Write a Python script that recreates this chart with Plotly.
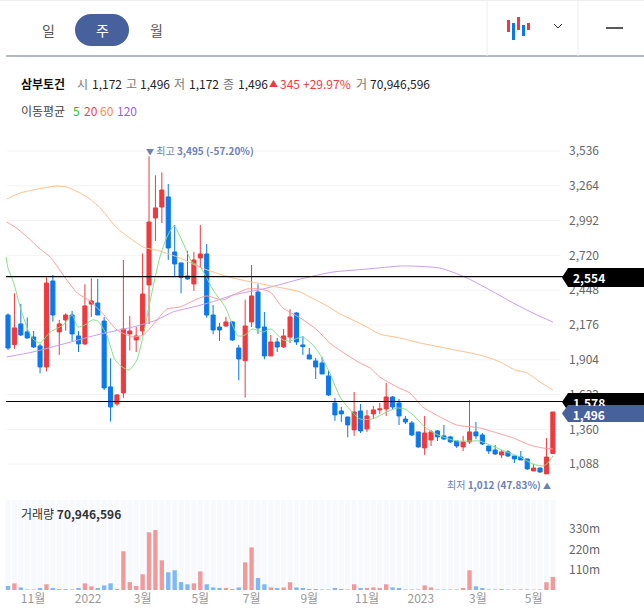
import plotly.graph_objects as go

W, H = 644, 611

# weekly candles
opens = [2254,2023,2184,2122,2082,2012,1848,2520,2122,2215,2254,2090,2028,2340,2348,2207,1692,1559,1645,2106,2059,2129,2489,3012,3098,3177,2747,2661,2559,2497,2700,2731,
         2254,2160,2168,2200,1996,1897,2200,2434,2160,1934,2043,2004,2082,2270,2020,1942,1895,1879,1778,1566,1504,1457,1356,1504,1363,1481,1512,1520,1613,1566,1441,1410,1340,
         1215,1277,1348,1309,1301,1269,1223,1262,1340,1316,1230,1199,1160,1184,1152,1144,1129,1035,1058,1012,1172]
highs = [2267,2424,2340,2234,2129,2028,2549,2567,2215,2267,2286,2129,2494,2541,2536,2239,1916,1637,2684,2247,2161,2736,3495,3346,3369,3278,2958,2661,2755,2747,2958,2809,
         2332,2192,2239,2207,2020,2374,2645,2494,2278,2098,2074,2145,2299,2278,2090,1996,1918,1926,1816,1606,1535,1457,1652,1559,1512,1543,1566,1723,1621,1598,1465,1426,1340,
         1465,1355,1355,1394,1309,1269,1309,1590,1418,1332,1230,1238,1199,1199,1152,1191,1129,1090,1061,1293,1496]
lows = [1981,1989,2090,2067,1996,1798,1814,2202,1942,2132,2049,1965,2017,2239,2254,1668,1421,1543,1606,1976,1965,2098,2184,2833,2973,2684,2559,2424,2528,2442,2629,2233,
        2103,2051,2160,2051,1744,1608,2160,2106,1908,1934,1965,1996,2035,2020,1942,1910,1754,1793,1621,1426,1418,1298,1309,1332,1340,1441,1481,1465,1512,1394,1402,1309,1215,
        1160,1230,1269,1277,1254,1215,1191,1246,1285,1238,1168,1160,1137,1144,1098,1121,1043,1035,1019,1012,1172]
closes = [1996,2153,2098,2075,2004,1848,2504,2254,2184,2254,2106,2028,2325,2364,2254,1684,1535,1629,2145,2129,2090,2418,2981,3091,3231,2778,2653,2549,2536,2684,2731,2254,
          2137,2137,2200,2059,1910,2168,2403,2153,1934,2043,2004,2090,2239,2043,2007,1910,1848,1793,1629,1473,1481,1395,1496,1348,1465,1512,1520,1613,1535,1465,1418,1316,1223,
          1332,1340,1301,1285,1262,1230,1262,1340,1309,1246,1191,1168,1184,1152,1129,1121,1051,1058,1027,1144,1496]

# volume in millions
volume = [22,36,14,2,2,7,31,7,4,4,2,7,36,20,7,25,36,4,210,43,22,85,313,325,161,96,107,43,31,36,101,31,14,9,9,4,14,150,231,65,31,14,9,14,42,14,9,4,4,
          2,2,9,5,2,31,9,9,14,9,31,14,9,2,2,2,25,14,2,2,2,2,9,107,20,9,2,2,4,2,2,2,2,1,3,42,71]

ma5_x = [-0.3,0,0.9,1.9,3,3.9,5,6.6,8.6,10,10.9,12,13.1,14,15.4,16.7,17.8,18.9,20.1,21.1,22.2,23.7,24.8,25.9,27.1,28.7,30,31,32,33.9,34.9,35.9,37,38.1,39.8,41,42.9,44,45.9,47.6,49,50.2,51.8,53.4,54.9,56.8,59.1,60.7,61.9,63.2,64.7,66.1,67.9,70,72.1,73.6,75.2,77.8,79.9,81.9,83.5,84.2,85]
ma5 = [2707,2621,2504,2316,2152,2066,2035,2121,2176,2254,2160,2176,2215,2207,2098,1902,1848,1824,1902,2098,2371,2707,2864,2950,2840,2668,2629,2543,2449,2316,2191,2090,2098,2145,2121,2145,2059,2051,2082,2019,1918,1801,1613,1511,1441,1441,1496,1527,1519,1472,1394,1340,1300,1269,1269,1269,1238,1183,1144,1089,1074,1097,1152]
ma20_x = [-0.2,1.1,3,5,6.6,8.6,10.8,12.8,14.7,17,19.5,21.1,22.2,24.8,26.8,29.5,31,33.5,35.1,37.3,39.3,40.9,42.9,45.6,48.2,50.2,52.9,54.9,56.5,58,60.7,62.7,64.7,67.4,70,73.6,76.3,78.8,81.4,83.5,85]
ma20 = [2981,2942,2864,2770,2707,2567,2426,2363,2270,2137,2082,2098,2152,2301,2316,2379,2403,2371,2410,2457,2457,2434,2309,2231,2137,2035,1941,1879,1840,1769,1691,1644,1535,1457,1394,1371,1332,1293,1238,1214,1207]
ma60_x = [-0.2,1.9,3.9,5.5,7.6,9.2,11.2,12.8,14.4,17,19,21.1,23.7,26.8,29.5,31.5,35.1,40.4,45.6,47.1,49.8,51.8,53.8,56,58,61.2,64.3,69,73.6,76.8,79.1,81,83,85]
ma60 = [3161,3208,3231,3247,3262,3254,3208,3161,3090,2934,2856,2785,2754,2700,2637,2598,2543,2488,2434,2395,2324,2262,2215,2160,2105,2074,2035,1988,1941,1887,1824,1801,1730,1668]
ma120_x = [-0.2,3.9,9.2,14.4,19.5,23.2,25.7,29.5,32.3,35.1,40.4,45.6,50.7,56,61.2,62.7,67.4,71.3,75.2,79.1,82.2,85]
ma120 = [1926,1965,2035,2105,2160,2215,2277,2324,2363,2410,2465,2535,2590,2613,2637,2637,2621,2551,2449,2340,2262,2199]

price_ticks = [1088,1360,1632,1904,2176,2448,2720,2992,3264,3536]
vol_ticks = [110,220,330]
vol_tick_labels = ['110m','220m','330m']
month_pos = [3.9,12.5,21,30,38,47,56,64.4,73.3,82]
month_labels = ['11월','2022','3월','5월','7월','9월','11월','2023','3월','5월']
hlines = [2554,1578]

RED, BLUE = '#f0393d', '#0b78ee'
NAVY = '#46619b'
FONT = 'Noto Sans CJK KR'
weeks = list(range(len(closes)))

def px(x): return x/W
def py(y): return 1-y/H

fig = go.Figure()

# stripes behind the volume bars
fig.add_trace(go.Bar(x=weeks, y=[488]*len(weeks), yaxis='y2', width=0.84, marker=dict(color='#f7f9fc', line=dict(width=0)),
                     hoverinfo='skip', showlegend=False))
vcol = []
for o, c, v in zip(opens, closes, volume):
    if c >= o:
        vcol.append('#f2999c' if v > 3 else '#fbd3d4')
    else:
        vcol.append('#7eb8f6' if v > 3 else '#b5dcff')
fig.add_trace(go.Bar(x=weeks, y=volume, yaxis='y2', width=0.68, marker=dict(color=vcol, line=dict(width=0)), showlegend=False))

fig.add_trace(go.Candlestick(x=weeks, open=opens, high=highs, low=lows, close=closes, whiskerwidth=0,
    increasing=dict(line=dict(color=RED, width=1), fillcolor=RED),
    decreasing=dict(line=dict(color=BLUE, width=1), fillcolor=BLUE), showlegend=False))

for xs, ys, col in [(ma120_x, ma120, '#c89df6'), (ma60_x, ma60, '#ffbf8c'), (ma20_x, ma20, '#ff9d9f'), (ma5_x, ma5, '#86df86')]:
    fig.add_trace(go.Scatter(x=xs, y=ys, mode='lines', line=dict(color=col, width=1, shape='spline', smoothing=0.6), showlegend=False))

shapes = []
# price grid
for t in price_ticks:
    shapes.append(dict(type='line', xref='paper', x0=px(7), x1=px(560), yref='y', y0=t, y1=t, line=dict(color='#f3f3f3', width=1), layer='below'))
# chrome at the top
shapes.append(dict(type='line', xref='paper', yref='paper', x0=0, x1=1, y0=py(0.5), y1=py(0.5), line=dict(color='#eeeeee', width=1)))
shapes.append(dict(type='line', xref='paper', yref='paper', x0=px(6), x1=1, y0=py(56), y1=py(56), line=dict(color='#6b7280', width=1)))
for sx in [487, 578]:
    shapes.append(dict(type='line', xref='paper', yref='paper', x0=px(sx), x1=px(sx), y0=py(0), y1=py(56), line=dict(color='#eeeeee', width=1)))
shapes.append(dict(type='rect', xref='paper', yref='paper', x0=px(91), x1=px(113), y0=py(46), y1=py(14), fillcolor=NAVY, line=dict(width=0)))
for cx in [91, 113]:
    shapes.append(dict(type='circle', xref='paper', yref='paper', x0=px(cx-16), x1=px(cx+16), y0=py(46), y1=py(14), fillcolor=NAVY, line=dict(width=0)))
for x0, y0, y1, col in [(507,20,32,RED),(512,23,40,BLUE),(517,17,30,RED),(522,25,36,BLUE),(527,23,30,RED)]:
    shapes.append(dict(type='rect', xref='paper', yref='paper', x0=px(x0), x1=px(x0+3), y0=py(y1), y1=py(y0), fillcolor=col, line=dict(width=0)))
for a, b, c, d in [(554,24,558,28),(558,28,562,24)]:
    shapes.append(dict(type='line', xref='paper', yref='paper', x0=px(a), x1=px(c), y0=py(b), y1=py(d), line=dict(color='#333333', width=1)))
shapes.append(dict(type='line', xref='paper', yref='paper', x0=px(606), x1=px(623), y0=py(28), y1=py(28), line=dict(color='#222222', width=1.5)))
# horizontal level lines and their tags
for lv in hlines:
    shapes.append(dict(type='line', xref='paper', x0=px(6), x1=px(565), yref='y', y0=lv, y1=lv, line=dict(color='#000000', width=1.2)))
def tag(yc, half, col):
    top, bot = py(yc-half), py(yc+half)
    return dict(type='path', xref='paper', yref='paper', fillcolor=col, line=dict(width=0),
                path=f'M {px(562)} {py(yc)} L {px(568)} {top} L 1 {top} L 1 {bot} L {px(568)} {bot} Z')
shapes.append(tag(277.5, 9.5, '#000000'))
shapes.append(tag(402, 9, '#000000'))
shapes.append(tag(413.5, 8.5, NAVY))

def note(x, y, text, color='#333333', size=12, anchor='left', **kw):
    return dict(xref='paper', yref='paper', x=px(x), y=py(y), text=text, showarrow=False, xanchor=anchor, yanchor='middle',
                font=dict(color=color, size=size, family=FONT), borderpad=0, borderwidth=0, **kw)

GREY = '#777777'
DARK = '#222222'
HI = '#6c81b8'
TRI = '<span style="font-size:8px">%s</span>'
notes = [
    note(48, 30, '일', '#555555', 14, 'center'), note(102, 30, '주', '#ffffff', 14, 'center'), note(156, 30, '월', '#555555', 14, 'center'),
    note(21, 83, '<b>삼부토건</b>', '#111111'),
    note(77, 83, '시', GREY), note(92, 83, '1,172', DARK), note(126, 83, '고', GREY), note(140, 83, '1,496', DARK),
    note(174, 83, '저', GREY), note(189, 83, '1,172', DARK), note(223, 83, '종', GREY), note(238, 83, '1,496', DARK),
    note(269, 83, '▲', RED, 9), note(280, 83, '345', RED), note(303, 83, '+29.97%', RED),
    note(356, 83, '거', GREY), note(370, 83, '70,946,596', DARK),
    note(21, 110, '이동평균', '#444444'), note(73, 110, '5', '#22c522'), note(84, 110, '20', '#f5404a'), note(100, 110, '60', '#f98a3c'), note(117, 110, '120', '#9a5cf0'),
    note(146, 150, (TRI % '▼') + ' 최고 <b>3,495 (-57.20%)</b>', HI, 10),
    note(551, 484, '최저 <b>1,012 (47.83%)</b> ' + (TRI % '▲'), HI, 10, 'right'),
    note(21, 513, '거래량 <b>70,946,596</b>', '#333333'),
    note(573, 277.5, '<b>2,554</b>', '#ffffff'), note(573, 402, '<b>1,578</b>', '#ffffff'),
    note(570, 413.5, '<b> 1,496</b>', '#ffffff', 12, bgcolor=NAVY, width=66, align='left', height=16),
]

fig.update_layout(
    width=W, height=H, margin=dict(l=0, r=0, t=0, b=0), paper_bgcolor='white', plot_bgcolor='rgba(0,0,0,0)',
    barmode='overlay', boxgap=0.2, boxgroupgap=0.2, showlegend=False, font=dict(family=FONT, size=12), shapes=shapes, annotations=notes,
    xaxis=dict(domain=[0, 1], range=[-1.248, 99.22], anchor='y2', rangeslider=dict(visible=False), showgrid=False, zeroline=False,
               showline=False, ticks='', tickmode='array', tickvals=month_pos, ticktext=month_labels, tickangle=0,
               tickfont=dict(color='#999999', size=12)),
    yaxis=dict(domain=[py(490), py(140)], range=[886, 3622], anchor='free', position=px(568), side='right', showgrid=False, zeroline=False,
               showline=False, ticks='', tickmode='array', tickvals=price_ticks, tickformat=',d', tickfont=dict(color='#666666', size=12)),
    yaxis2=dict(domain=[py(590), py(500)], range=[0, 488], anchor='free', position=px(568), side='right', showgrid=False, zeroline=False,
                showline=False, ticks='', tickmode='array', tickvals=vol_ticks, ticktext=vol_tick_labels, tickfont=dict(color='#666666', size=12)),
)

fig.write_html("out.html", post_script="document.body.style.margin='0';", config=dict(displayModeBar=False))
